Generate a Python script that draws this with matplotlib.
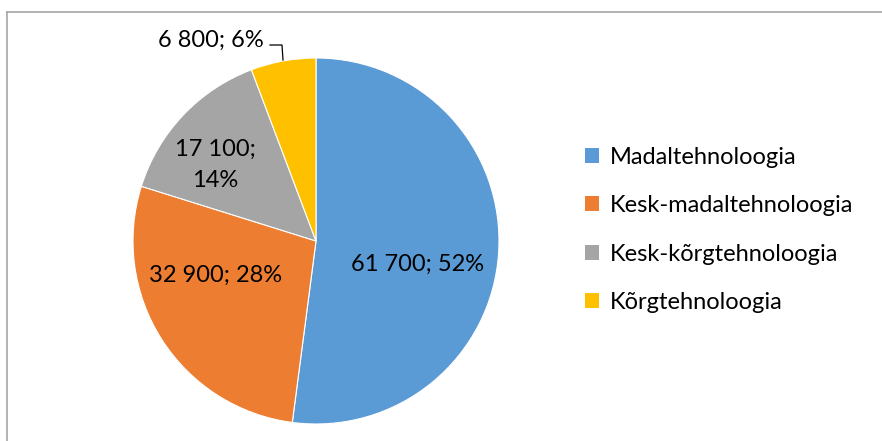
"""Pie chart: employment by technology level."""

import matplotlib
matplotlib.use("Agg")
import matplotlib.pyplot as plt
from matplotlib.lines import Line2D

W, H = 882, 441

categories = ["Madaltehnoloogia", "Kesk-madaltehnoloogia",
              "Kesk-kõrgtehnoloogia", "Kõrgtehnoloogia"]
values = [61700, 32900, 17100, 6800]
percents = [52, 28, 14, 6]
colors = ["#5B9BD5", "#ED7D31", "#A5A5A5", "#FFC000"]

# layout (pixel coords, y measured from top)
CENTER = (316, 241)
RADIUS = 183
LABEL_POS = [(418, 264), (216, 275), (215, 165), (211, 40)]
FONT = "Lato"
FS = 17


def fmt(v, p, wrap=False):
    s = f"{v:,}".replace(",", " ")
    sep = ";\n" if wrap else "; "
    return f"{s}{sep}{p}%"


fig = plt.figure(figsize=(W / 100, H / 100), dpi=100)
ax = fig.add_axes([0, 0, 1, 1])

wedges, _ = ax.pie(values, colors=colors, startangle=90, counterclock=False,
                   center=(CENTER[0], H - CENTER[1]), radius=RADIUS,
                   wedgeprops={"edgecolor": "white", "linewidth": 0.8})
ax.set_xlim(0, W)
ax.set_ylim(0, H)
ax.set_aspect("equal")
ax.set_axis_off()

for i, (v, p) in enumerate(zip(values, percents)):
    x, y = LABEL_POS[i]
    ax.text(x, H - y, fmt(v, p, wrap=(i == 2)), ha="center", va="center",
            fontsize=FS, family=FONT, color="black", linespacing=1.6)

# leader line for the small slice
ax.plot([270, 282, 283], [H - 45, H - 45, H - 60], color="black", lw=0.9)

# chart border (only left and top visible)
fig.add_artist(Line2D([7 / W, 7 / W], [0, 1 - 12 / H], transform=fig.transFigure,
                      color="#A6A6A6", lw=1.2))
fig.add_artist(Line2D([7 / W, 1], [1 - 12 / H, 1 - 12 / H], transform=fig.transFigure,
                      color="#A6A6A6", lw=1.2))

leg = ax.legend(wedges, categories, loc="center left",
                bbox_to_anchor=(585 / W, 1 - 230 / H), frameon=False,
                prop={"family": FONT, "size": FS}, handlelength=0.6,
                handleheight=0.6, handletextpad=0.45, labelspacing=1.16,
                borderpad=0, borderaxespad=0)
for h in leg.legend_handles:
    h.set_edgecolor("none")

fig.savefig("out.png", dpi=100)
